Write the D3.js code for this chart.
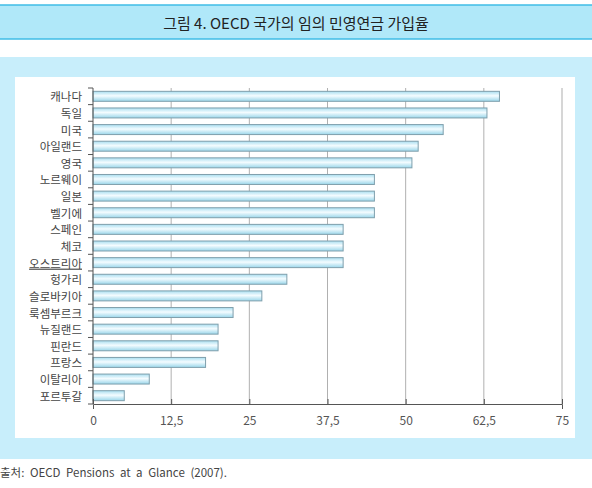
<!DOCTYPE html>
<html>
<head>
<meta charset="utf-8">
<script src="https://cdn.jsdelivr.net/npm/d3@7"></script>
<style>
  body { margin: 0; background: #fff; }
  svg text { font-family: "Noto Sans CJK KR", "Noto Sans", sans-serif; }
</style>
</head>
<body>
<script>
// 국가별 임의 민영연금 가입률 (%)
var countries = ['캐나다', '독일', '미국', '아일랜드', '영국', '노르웨이', '일본', '벨기에', '스페인', '체코',
  '오스트리아', '헝가리', '슬로바키아', '룩셈부르크', '뉴질랜드', '핀란드', '프랑스', '이탈리아', '포르투갈'];
var rates = [65, 63, 56, 52, 51, 45, 45, 45, 40, 40, 40, 31, 27, 22.4, 20, 20, 18, 9, 5];
var xTicks = [0, 12.5, 25, 37.5, 50, 62.5, 75];

var W = 592, H = 488;
var svg = d3.select('body').append('svg')
  .attr('width', W)
  .attr('height', H);

// 그라데이션 (막대)
var grad = svg.append('defs').append('linearGradient')
  .attr('id', 'barGrad')
  .attr('x1', 0).attr('y1', 0).attr('x2', 0).attr('y2', 1);
grad.append('stop').attr('offset', '0%').attr('stop-color', '#a9def0');
grad.append('stop').attr('offset', '45%').attr('stop-color', '#f4fcff');
grad.append('stop').attr('offset', '100%').attr('stop-color', '#9ad6ea');

// 제목 띠
svg.append('rect')
  .attr('x', 0).attr('y', 5).attr('width', W).attr('height', 34)
  .attr('fill', '#b0e8f9');
svg.append('line').attr('x1', 0).attr('x2', W).attr('y1', 5).attr('y2', 5)
  .attr('stroke', '#3fbde6').attr('stroke-width', 1.5);
svg.append('line').attr('x1', 0).attr('x2', W).attr('y1', 39).attr('y2', 39)
  .attr('stroke', '#3fbde6').attr('stroke-width', 1.5);
svg.append('text')
  .attr('x', W / 2).attr('y', 22)
  .attr('text-anchor', 'middle')
  .attr('dominant-baseline', 'central')
  .style('font-size', '15px')
  .style('fill', '#222')
  .text('그림 4. OECD 국가의 임의 민영연금 가입율');

// 배경 패널
svg.append('rect')
  .attr('x', 0).attr('y', 57).attr('width', W).attr('height', 402)
  .attr('fill', '#c8eefb');
svg.append('rect')
  .attr('x', 15).attr('y', 77).attr('width', 560).attr('height', 361)
  .attr('fill', '#fff');

var x = d3.scaleLinear().domain([0, 75]).range([93, 562]);
var y = d3.scaleBand().domain(countries).range([88, 404])
  .paddingInner(0.4).paddingOuter(0.2);

// 세로 격자선
svg.append('g').selectAll('line')
  .data(xTicks.slice(1))
  .enter().append('line')
  .attr('x1', function(d) { return x(d); })
  .attr('x2', function(d) { return x(d); })
  .attr('y1', 88).attr('y2', 404)
  .attr('stroke', function(d) { return d === 75 ? '#c8c8c8' : '#b0b0b0'; })
  .attr('stroke-width', function(d) { return d === 75 ? 1.5 : 1; });

// 막대
svg.append('g').selectAll('rect')
  .data(rates)
  .enter().append('rect')
  .attr('x', x(0))
  .attr('y', function(d, i) { return y(countries[i]); })
  .attr('width', function(d) { return x(d) - x(0); })
  .attr('height', y.bandwidth())
  .attr('fill', 'url(#barGrad)')
  .attr('stroke', '#7f9fac')
  .attr('stroke-width', 1);

// x축
var xAxis = d3.axisBottom(x)
  .tickValues(xTicks)
  .tickSize(5)
  .tickFormat(function(d) { return String(d).replace('.', ','); });
var gx = svg.append('g')
  .attr('transform', 'translate(0,404)')
  .call(xAxis);
gx.select('.domain').attr('stroke', '#555');
gx.selectAll('.tick line').attr('stroke', '#555').attr('transform', 'translate(0,-5)');
gx.selectAll('.tick text')
  .attr('y', 12)
  .style('font-size', '12px')
  .style('fill', '#555');

// y축
var step = y.step();
var boundaries = countries.map(function(c) { return y(c) - step * 0.2; });
boundaries.push(404);
var gy = svg.append('g');
gy.append('line')
  .attr('x1', x(0)).attr('x2', x(0)).attr('y1', 88).attr('y2', 404)
  .attr('stroke', '#555');
gy.selectAll('line.tk')
  .data(boundaries)
  .enter().append('line')
  .attr('class', 'tk')
  .attr('x1', x(0) - 5).attr('x2', x(0))
  .attr('y1', function(d) { return d; })
  .attr('y2', function(d) { return d; })
  .attr('stroke', '#555');
gy.selectAll('text')
  .data(countries)
  .enter().append('text')
  .attr('x', 82)
  .attr('y', function(d) { return y(d) + y.bandwidth() / 2; })
  .attr('text-anchor', 'end')
  .attr('dominant-baseline', 'central')
  .style('font-size', '11.5px')
  .style('fill', '#444')
  .style('text-decoration', function(d) { return d === '오스트리아' ? 'underline' : null; })
  .text(function(d) { return d; });

// 출처
svg.append('text')
  .attr('x', 0).attr('y', 472)
  .attr('dominant-baseline', 'central')
  .style('font-size', '11.5px')
  .style('fill', '#444')
  .style('word-spacing', '3px')
  .text('출처: OECD Pensions at a Glance (2007).');
</script>
</body>
</html>
